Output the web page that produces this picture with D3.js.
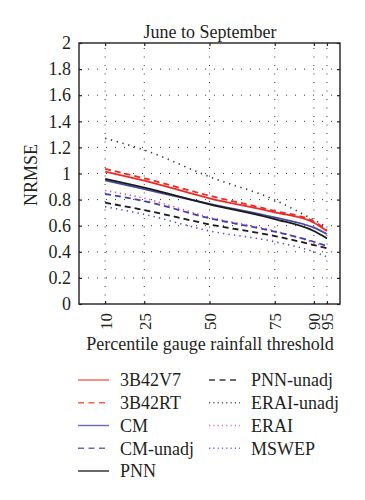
<!DOCTYPE html>
<html><head><meta charset="utf-8">
<script src="https://cdn.jsdelivr.net/npm/d3@7"></script>
<style>body{margin:0;background:#fff}svg{display:block}text{font-family:"Liberation Serif","Times New Roman",serif;fill:#231f20}</style>
</head><body><svg id="c" width="365" height="500"></svg>
<script>
const percentiles = [10, 25, 50, 75, 90, 95];
const xTickLabels = ["10", "25", "50", "75", "90", "95"];
const yTickValues = [0, 0.2, 0.4, 0.6, 0.8, 1, 1.2, 1.4, 1.6, 1.8, 2];
const seriesNames = ["3B42V7", "3B42RT", "CM", "CM-unadj", "PNN", "PNN-unadj", "ERAI-unadj", "ERAI", "MSWEP"];
const v3B42V7   = [1.015, 0.945, 0.81, 0.703, 0.623, 0.56];
const v3B42RT   = [1.035, 0.963, 0.83, 0.713, 0.632, 0.565];
const vCM       = [0.948, 0.880, 0.768, 0.664, 0.585, 0.536];
const vCMunadj  = [0.843, 0.789, 0.657, 0.554, 0.477, 0.444];
const vPNN      = [0.958, 0.891, 0.764, 0.651, 0.559, 0.503];
const vPNNunadj = [0.776, 0.720, 0.610, 0.521, 0.452, 0.427];
const vERAIunadj= [1.27, 1.18, 0.975, 0.797, 0.644, 0.59];
const vERAI     = [0.870, 0.810, 0.665, 0.560, 0.470, 0.430];
const vMSWEP    = [0.746, 0.687, 0.560, 0.477, 0.400, 0.362];

const seriesValues = [v3B42V7, v3B42RT, vCM, vCMunadj, vPNN, vPNNunadj, vERAIunadj, vERAI, vMSWEP];
const styles = {
  "3B42V7":    {c:"#ee2a24", d:null,  lc:"#f2604f"},
  "3B42RT":    {c:"#ee2a24", d:"6,4", lc:"#f2604f"},
  "CM":        {c:"#4b4ca0", d:null,  lc:"#6a68b0"},
  "CM-unadj":  {c:"#3f3fb5", d:"6,4", lc:"#6a68b8"},
  "PNN":       {c:"#1a1a1a", d:null,  lc:"#2a2a2a"},
  "PNN-unadj": {c:"#1a1a1a", d:"6,4", lc:"#3a3a3a"},
  "ERAI-unadj":{c:"#333333", d:"1.3,4.7", lc:"#555"},
  "ERAI":      {c:"#e0509a", d:"1.3,3.7", lc:"#e070a8"},
  "MSWEP":     {c:"#4a4ad8", d:"1.3,4.2", lc:"#6a6ad8"}
};

const svg = d3.select("#c");
const L = 79, R = 340, T = 43, B = 304;
const x = d3.scaleLinear().domain([0, 100]).range([L, R]);
const y = d3.scaleLinear().domain([0, 2]).range([B, T]);

// grid
const grid = svg.append("g");
grid.selectAll("line.gx").data(percentiles).join("line")
  .attr("x1", d => x(d)).attr("x2", d => x(d)).attr("y1", B).attr("y2", T)
  .attr("stroke", "#333").attr("stroke-width", 1).attr("stroke-dasharray", "1,7.5");
grid.selectAll("line.gy").data(yTickValues.slice(1, -1)).join("line")
  .attr("x1", L).attr("x2", R).attr("y1", d => y(d)).attr("y2", d => y(d))
  .attr("stroke", "#333").attr("stroke-width", 1).attr("stroke-dasharray", "1,8");

// lines
const line = d3.line().x((d, i) => x(percentiles[i])).y(d => y(d)).curve(d3.curveMonotoneX);
const order = ["ERAI-unadj", "MSWEP", "PNN-unadj", "ERAI", "CM-unadj", "CM", "PNN", "3B42RT", "3B42V7"];
order.forEach(name => {
  const i = seriesNames.indexOf(name);
  const s = styles[name];
  svg.append("path").datum(seriesValues[i]).attr("d", line)
    .attr("fill", "none").attr("stroke", s.c).attr("stroke-width", s.d && s.d.startsWith("1.3") ? 1.6 : 1.8)
    .attr("stroke-dasharray", s.d);
});

// axes
const yAxisL = d3.axisLeft(y).tickValues(yTickValues).tickSize(-3).tickPadding(8).tickFormat(d3.format("~g"));
const yAxisR = d3.axisRight(y).tickValues(yTickValues).tickSize(-3).tickFormat("");
const xAxisB = d3.axisBottom(x).tickValues(percentiles).tickSize(-3).tickFormat((d, i) => xTickLabels[i]);
const xAxisT = d3.axisTop(x).tickValues(percentiles).tickSize(-3).tickFormat("");
const gL = svg.append("g").attr("transform", `translate(${L},0)`).call(yAxisL);
const gR = svg.append("g").attr("transform", `translate(${R},0)`).call(yAxisR);
const gB = svg.append("g").attr("transform", `translate(0,${B})`).call(xAxisB);
const gT = svg.append("g").attr("transform", `translate(0,${T})`).call(xAxisT);
[gL, gR, gB, gT].forEach(g => {
  g.select(".domain").remove();
  g.selectAll(".tick line").attr("stroke", "#231f20").attr("stroke-width", 1.2);
  g.selectAll("text").style("font-family", '"Liberation Serif",serif').attr("font-size", 18).attr("fill", "#231f20");
});
gB.selectAll(".tick text").attr("transform", "rotate(-90)").attr("text-anchor", "end")
  .attr("x", -9).attr("y", 0).attr("dy", "0.35em").attr("font-size", 17);
svg.append("rect").attr("x", L).attr("y", T).attr("width", R - L).attr("height", B - T)
  .attr("fill", "none").attr("stroke", "#231f20").attr("stroke-width", 1.4);

// titles
svg.append("text").attr("x", 210).attr("y", 38).attr("text-anchor", "middle").attr("font-size", 18).text("June to September");
svg.append("text").attr("transform", "translate(37,175) rotate(-90)").attr("text-anchor", "middle").attr("font-size", 18).text("NRMSE");
svg.append("text").attr("x", 210).attr("y", 350).attr("text-anchor", "middle").attr("font-size", 18).text("Percentile gauge rainfall threshold");

// legend
const leg = svg.append("g");
seriesNames.forEach((name, i) => {
  const col = i < 5 ? 0 : 1;
  const row = i < 5 ? i : i - 5;
  const lx = col === 0 ? 78 : 209;
  const ly = 380 + row * 22.75;
  const s = styles[name];
  leg.append("line").attr("x1", lx).attr("x2", lx + 31).attr("y1", ly).attr("y2", ly)
    .attr("stroke", s.lc).attr("stroke-width", 1.4)
    .attr("stroke-dasharray", s.d ? (s.d.startsWith("1.3") ? "1.2,3.1" : "6,4.5") : null);
  leg.append("text").attr("x", lx + 42).attr("y", ly).attr("dy", "0.35em").attr("font-size", 18).text(name);
});
</script></body></html>
